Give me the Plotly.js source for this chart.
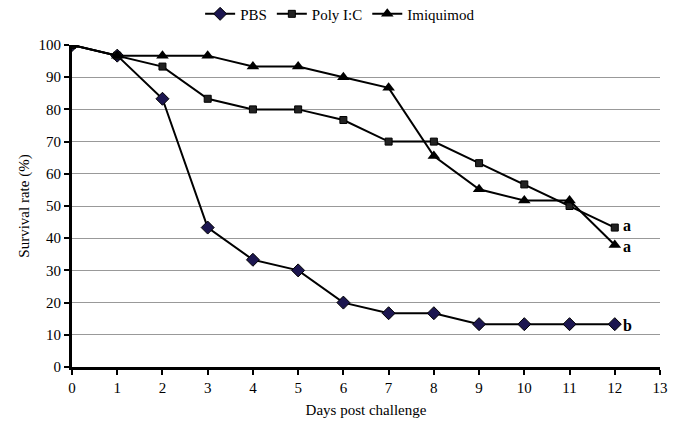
<!DOCTYPE html>
<html>
<head>
<meta charset="utf-8">
<script src="https://cdn.plot.ly/plotly-3.0.1.min.js"></script>
<style>html,body{margin:0;padding:0;background:#fff;}#chart{width:681px;height:424px;}</style>
</head>
<body>
<div id="chart"></div>
<script>
var days = [0,1,2,3,4,5,6,7,8,9,10,11,12];
var pbs = [100,96.7,83.3,43.3,33.3,30,20,16.7,16.7,13.3,13.3,13.3,13.3];
var polyIC = [100,96.7,93.3,83.3,80,80,76.7,70,70,63.3,56.7,50,43.3];
var imiquimod = [100,96.7,96.7,96.7,93.3,93.3,90,86.7,65.5,55.2,51.7,51.7,37.9];
var seriesNames = ['PBS','Poly I:C','Imiquimod'];
var endLabels = ['b','a','a'];
var xTicks = [0,1,2,3,4,5,6,7,8,9,10,11,12,13];
var yTicks = [0,10,20,30,40,50,60,70,80,90,100];

var font = "'Liberation Serif', 'Times New Roman', serif";
var traces = [
  {x: days, y: pbs, name: seriesNames[0], mode: 'lines+markers',
   line: {color: '#000', width: 2},
   marker: {symbol: 'diamond', size: 10, color: '#1c1650', line: {color: '#000', width: 1}}},
  {x: days, y: polyIC, name: seriesNames[1], mode: 'lines+markers',
   line: {color: '#000', width: 2},
   marker: {symbol: 'square', size: 7, color: '#222', line: {color: '#000', width: 1}}},
  {x: days, y: imiquimod, name: seriesNames[2], mode: 'lines+markers',
   line: {color: '#000', width: 2},
   marker: {symbol: 'triangle-up', size: 11, color: '#000', line: {color: '#000', width: 0}}}
];
var allSeries = [pbs, polyIC, imiquimod];
var yShifts = [-1, 2, -2];
var annotations = allSeries.map(function(s, i){
  return {x: days[days.length-1], y: s[s.length-1], text: '<b>'+endLabels[i]+'</b>',
    showarrow: false, xanchor: 'left', xshift: 6, yshift: yShifts[i],
    font: {family: font, size: 16, color: '#000'}};
});
var layout = {
  width: 681, height: 424,
  margin: {l: 72, r: 21, t: 45, b: 57, autoexpand: false},
  paper_bgcolor: '#fff', plot_bgcolor: '#fff',
  font: {family: font, size: 15, color: '#000'},
  showlegend: true,
  legend: {orientation: 'h', x: 0.456, xanchor: 'center', y: 1.096, yanchor: 'middle',
    font: {family: font, size: 15}, tracegroupgap: 0, itemwidth: 30},
  xaxis: {range: [0, 13], tickvals: xTicks, ticks: 'outside', ticklen: 5, tickwidth: 2,
    tickcolor: '#000', showgrid: false, zeroline: false, showline: true, linecolor: '#000',
    linewidth: 3, title: {text: 'Days post challenge', font: {family: font, size: 15}, standoff: 10},
    tickfont: {family: font, size: 15}, fixedrange: true, automargin: false},
  yaxis: {range: [0, 100], tickvals: yTicks, ticks: 'outside', ticklen: 5, tickwidth: 2,
    tickcolor: '#000', showgrid: true, gridcolor: '#999', gridwidth: 1, zeroline: false,
    showline: true, linecolor: '#000', linewidth: 3,
    title: {text: 'Survival rate (%)', font: {family: font, size: 15}, standoff: 6},
    tickfont: {family: font, size: 15}, fixedrange: true, automargin: false},
  annotations: annotations
};
Plotly.newPlot('chart', traces, layout, {displayModeBar: false, staticPlot: true});
</script>
</body>
</html>
